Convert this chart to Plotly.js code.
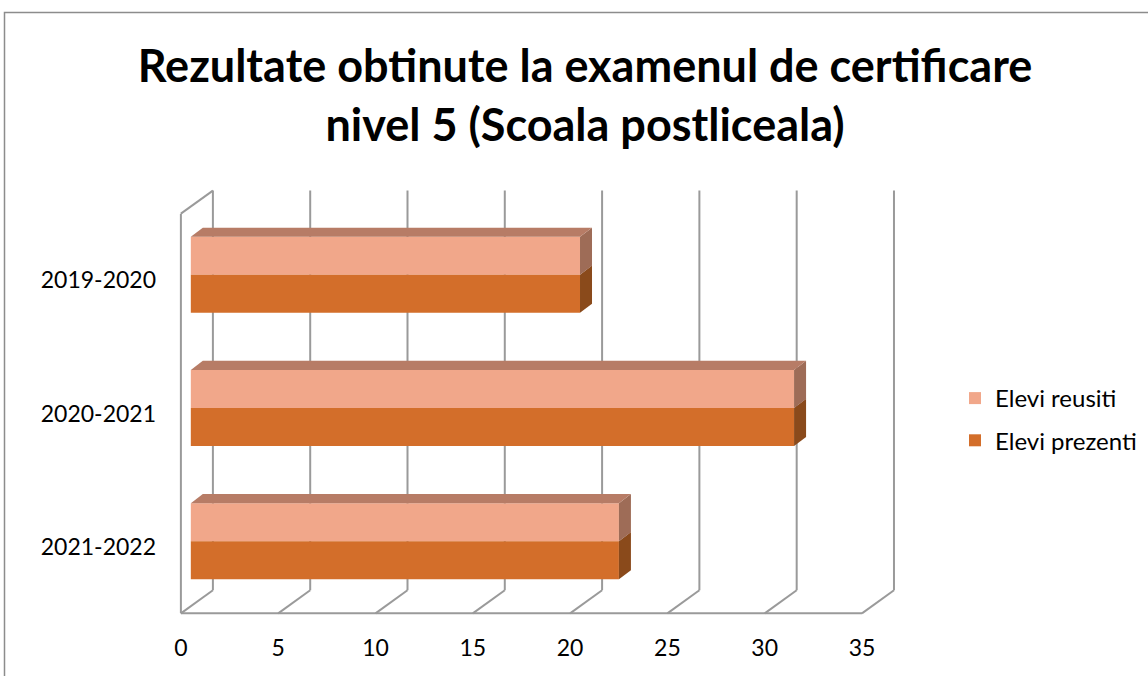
<!DOCTYPE html>
<html>
<head>
<meta charset="utf-8">
<script src="https://cdn.plot.ly/plotly-3.0.1.min.js"></script>
<style>html,body{margin:0;padding:0;background:#fff;}#chart{width:1148px;height:676px;}</style>
</head>
<body>
<div id="chart"></div>
<script>
// ---- data ----
const categories = ['2019-2020', '2020-2021', '2021-2022'];
const eleviReusiti = [20, 31, 22];
const eleviPrezenti = [20, 31, 22];
const seriesNames = ['Elevi reusiti', 'Elevi prezenti'];
const xTickVals = [0, 5, 10, 15, 20, 25, 30, 35];

// ---- style ----
const FONT = 'Lato, "Open Sans", sans-serif';
const pinkFront = '#F1A78A', pinkTop = '#B77C66', pinkSide = '#9E6C57';
const orangeFront = '#D36E2A', orangeSide = '#8A4A1B';
const gridColor = '#9A9A9A';

// 3D geometry (in axis units)
const wallDx = 1.645, wallDy = 0.173;   // depth of the walls
const barBase = 0.51;                   // bars sit at mid depth
const barDx = 0.617, barDy = 0.068;     // depth of each bar
const barW = 0.286;
const offTop = 0.041, offBot = -0.244;

const yPos = categories.map((c, i) => categories.length - 1 - i);

const traces = [
  {type: 'bar', orientation: 'h', name: seriesNames[0], y: yPos, x: eleviReusiti,
   base: barBase, width: barW, offset: offTop, marker: {color: pinkFront},
   legendgroup: 'a', hoverinfo: 'x'},
  {type: 'bar', orientation: 'h', name: seriesNames[1], y: yPos, x: eleviPrezenti,
   base: barBase, width: barW, offset: offBot, marker: {color: orangeFront},
   legendgroup: 'b', hoverinfo: 'x'}
];

function poly(xs, ys, color) {
  traces.push({type: 'scatter', mode: 'lines', x: xs.concat([xs[0]]), y: ys.concat([ys[0]]),
    fill: 'toself', fillcolor: color, line: {width: 0, color: color},
    showlegend: false, hoverinfo: 'skip'});
}

yPos.forEach((yc, i) => {
  const x1o = barBase + eleviPrezenti[i];
  const yb0 = yc + offBot, yt0 = yc + offBot + barW;
  poly([x1o, x1o, x1o + barDx, x1o + barDx], [yb0, yt0, yt0 + barDy, yb0 + barDy], orangeSide);
  const x0 = barBase, x1 = barBase + eleviReusiti[i];
  const yb = yc + offTop, yt = yc + offTop + barW;
  poly([x1, x1, x1 + barDx, x1 + barDx], [yb, yt, yt + barDy, yb + barDy], pinkSide);
  poly([x0, x1, x1 + barDx, x0 + barDx], [yt, yt, yt + barDy, yt + barDy], pinkTop);
});

// walls / gridlines
const yFront0 = -0.5, yFront1 = 2.5;
const shapes = [];
const ln = (x0, y0, x1, y1) => shapes.push({type: 'line', xref: 'x', yref: 'y', x0, y0, x1, y1,
  line: {color: gridColor, width: 2}, layer: 'below'});
xTickVals.forEach(v => {
  ln(v, yFront0, v + wallDx, yFront0 + wallDy);
  ln(v + wallDx, yFront0 + wallDy, v + wallDx, yFront1 + wallDy);
});
ln(xTickVals[0], yFront0, xTickVals[xTickVals.length - 1], yFront0);
ln(0, yFront0, 0, yFront1);
ln(0, yFront1, wallDx, yFront1 + wallDy);

// outer frame
const L = 177, W = 720, T = 187, H = 433;
const px = p => (p - L) / W, py = p => 1 - (p - T) / H;
shapes.push({type: 'rect', xref: 'paper', yref: 'paper', x0: px(4.5), x1: px(1160), y0: py(12.5), y1: py(700),
  line: {color: '#8C8C8C', width: 1.5}, fillcolor: 'rgba(0,0,0,0)', layer: 'below'});

const layout = {
  width: 1148, height: 676,
  margin: {l: L, r: 1148 - L - W, t: T, b: 676 - T - H, autoexpand: false},
  paper_bgcolor: '#fff', plot_bgcolor: 'rgba(0,0,0,0)',
  font: {family: FONT, color: '#000', size: 23},
  title: {text: '<b>Rezultate obtinute la examenul de certificare<br>nivel 5 (Scoala postliceala)</b>',
    font: {family: FONT, size: 45, color: '#000'}, xref: 'container', yref: 'container',
    x: 585 / 1148, xanchor: 'center', y: 1 - 82 / 676, yanchor: 'middle'},
  barmode: 'overlay',
  xaxis: {range: [-0.2, 36.8], tickvals: xTickVals, ticktext: xTickVals.map(String),
    showgrid: false, zeroline: false, showline: false, ticks: '', ticklabelstandoff: 12,
    tickfont: {size: 23, family: FONT}, fixedrange: true, automargin: false},
  yaxis: {range: [-0.55, 2.7], tickvals: yPos, ticktext: categories,
    showgrid: false, zeroline: false, showline: false, ticks: '', ticklabelstandoff: 20,
    tickfont: {size: 23, family: FONT}, fixedrange: true, automargin: false},
  shapes: shapes,
  showlegend: true,
  legend: {x: px(955), y: py(376), xanchor: 'left', yanchor: 'top', traceorder: 'grouped',
    tracegroupgap: 8, font: {size: 24, family: FONT}, bgcolor: 'rgba(0,0,0,0)'}
};

Plotly.newPlot('chart', traces, layout, {displayModeBar: false, staticPlot: true});
</script>
</body>
</html>
